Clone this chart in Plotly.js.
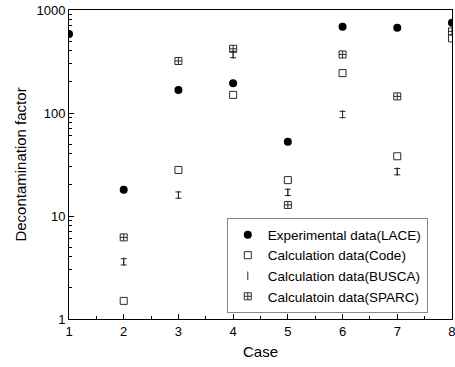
<!DOCTYPE html>
<html><head><meta charset="utf-8">
<script src="https://cdn.plot.ly/plotly-3.0.1.min.js"></script>
<style>html,body{margin:0;padding:0;background:#fff}#chart{width:455px;height:367px}</style>
</head><body><div id="chart"></div>
<script>
const cases = [1, 2, 3, 4, 5, 6, 7, 8];
const expLACE = [585, 18, 167, 194, 52.6, 689, 673, 753];
const calcCode = [null, 1.5, 28, 150, 22.3, 244, 38, 530];
const calcBUSCA = [null, 3.6, 16, 370, 17, 97, 27, null];
const calcSPARC = [null, 6.2, 320, 420, 12.8, 370, 145, 620];
const xTicks = [1, 2, 3, 4, 5, 6, 7, 8];
const yTicks = [1, 10, 100, 1000];
const yTickText = ['1', '10', '100', '1000'];

function pts(ys) {
  const xs = [], vs = [];
  cases.forEach((c, i) => { if (ys[i] != null) { xs.push(c); vs.push(ys[i]); } });
  return {x: xs, y: vs};
}
const yMinor = [];
[1, 10, 100].forEach(d => { for (let k = 2; k <= 9; k++) yMinor.push(k * d); });

const ink = '#2a2a2a';
const traces = [
  Object.assign(pts(expLACE), {name: 'Experimental data(LACE)', mode: 'markers', type: 'scatter',
   marker: {symbol: 'circle', size: 8, color: '#000'}}),
  Object.assign(pts(calcCode), {name: 'Calculation data(Code)', mode: 'markers', type: 'scatter',
   marker: {symbol: 'square-open', size: 7, color: ink, line: {width: 1, color: ink}}}),
  Object.assign(pts(calcBUSCA), {name: 'Calculation data(BUSCA)', mode: 'markers', type: 'scatter',
   marker: {symbol: 'line-ns-open', size: 6, color: ink, line: {width: 1, color: ink}},
   error_y: {type: 'percent', value: 7, width: 3, thickness: 1, color: ink}}),
  Object.assign(pts(calcSPARC), {name: 'Calculatoin data(SPARC)', mode: 'markers', type: 'scatter',
   marker: {symbol: 'square-cross-open', size: 7, color: ink, line: {width: 1, color: ink}}})
];

const layout = {
  width: 455, height: 367,
  margin: {l: 69, r: 3, t: 10, b: 48},
  paper_bgcolor: '#fff', plot_bgcolor: '#fff',
  font: {family: 'Liberation Sans, Arial, sans-serif', size: 13, color: '#000'},
  showlegend: true,
  legend: {x: 0.412, y: 0.172, xanchor: 'left', yanchor: 'middle',
    bgcolor: '#fff', bordercolor: '#888', borderwidth: 1,
    font: {size: 13.5, color: '#000'}, tracegroupgap: 0, itemwidth: 30},
  xaxis: {range: [1, 8.0005], tickvals: xTicks, ticktext: xTicks.map(String),
    ticks: 'inside', ticklen: 5, tickcolor: '#000', showgrid: false, zeroline: false,
    showline: true, linecolor: '#000', linewidth: 1, mirror: true, automargin: false,
    ticklabeloverflow: 'allow',
    minor: {ticks: 'inside', ticklen: 3, dtick: 0.5, tickcolor: '#000', showgrid: false},
    title: {text: 'Case', font: {size: 15}, standoff: 8},
    tickfont: {size: 13}},
  yaxis: {type: 'log', range: [0, 3], tickvals: yTicks, ticktext: yTickText,
    ticks: 'inside', ticklen: 5, tickcolor: '#000', showgrid: false, zeroline: false,
    showline: true, linecolor: '#000', linewidth: 1, mirror: true, automargin: false,
    minor: {ticks: 'inside', ticklen: 3, tickvals: yMinor, tickcolor: '#000', showgrid: false},
    title: {text: 'Decontamination factor', font: {size: 15}, standoff: 6},
    tickfont: {size: 13}}
};
Plotly.newPlot('chart', traces, layout, {displayModeBar: false, staticPlot: true});
</script></body></html>
